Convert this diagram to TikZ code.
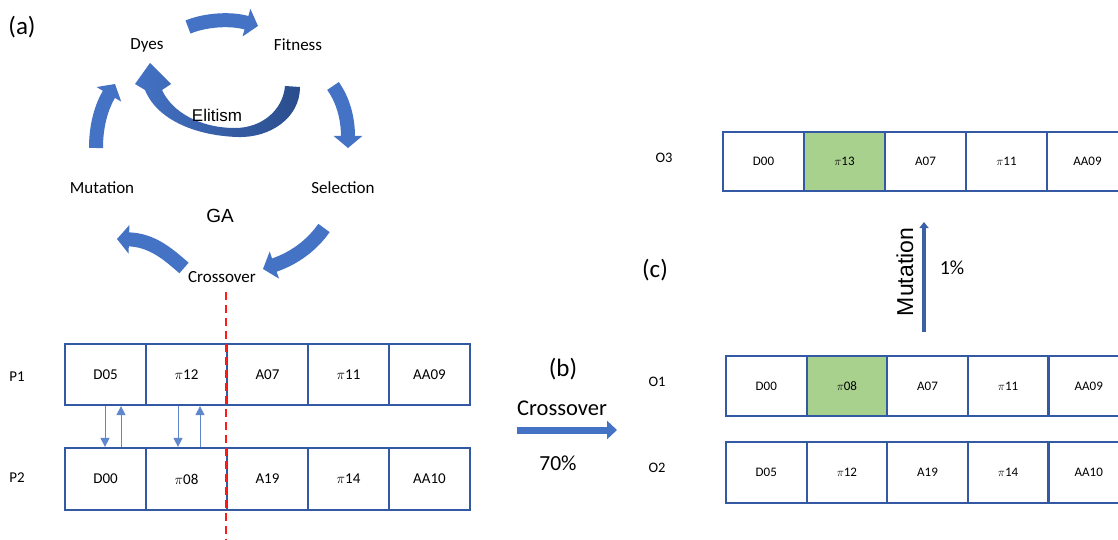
\documentclass[tikz,border=0pt]{standalone}
\usepackage{fontspec}
\setmainfont{Carlito}
\newfontfamily\arialf{Liberation Sans}
\usetikzlibrary{arrows.meta,calc}
\definecolor{cellblue}{HTML}{3358A4}
\definecolor{arrblue}{HTML}{4472C4}
\definecolor{darkblue}{HTML}{2A4D8C}
\definecolor{cellgreen}{HTML}{A9D18E}
\definecolor{cutred}{HTML}{FF1A1A}
\tikzset{
  cell/.style={draw=cellblue, line width=2.2pt, minimum width=81pt, minimum height=61pt, inner sep=0pt, font=\fontsize{15}{17}\selectfont},
  ocell/.style={cell, minimum width=80.6pt, minimum height=60pt, font=\fontsize{13}{15}\selectfont},
  lbl/.style={inner sep=0pt, font=\fontsize{17}{20}\selectfont},
  rowlbl/.style={inner sep=0pt, font=\fontsize{15}{17}\selectfont},
  panel/.style={inner sep=0pt, font=\fontsize{25}{29}\selectfont},
  bigarrow/.style={arrblue, line width=14pt, -{Triangle[length=12pt,width=28pt]}},
  smallarr/.style={arrblue!85, line width=0.9pt, -{Triangle[length=9pt,width=9pt]}},
  cutline/.style={cutred, line width=2.2pt, dash pattern=on 8pt off 5pt},
}
\begin{document}
\begin{tikzpicture}[x=1pt,y=-1pt]
\useasboundingbox (0,0) rectangle (1118,540);
\clip (0,0) rectangle (1118,540);
\fill[white] (0,0) rectangle (1118,540);

% ---------- GA cycle ----------
\node[panel] (pa) at (22,27) {(a)};
\node[lbl] (dyes) at (147,45) {Dyes};
\node[lbl] (fit) at (298,45) {Fitness};
\node[lbl] (sel) at (343,188) {Selection};
\node[lbl] (mut) at (102,188) {Mutation};
\node[lbl] (cro) at (222,277) {Crossover};
\node[inner sep=0pt, font=\arialf\fontsize{19}{23}\selectfont] (ga) at (220,216) {GA};

\coordinate (a1s) at (188,27);  \coordinate (a1e) at (258,26);
\coordinate (a2s) at (333,86);  \coordinate (a2e) at (348,148);
\coordinate (a3s) at (324,228); \coordinate (a3e) at (263,269);
\coordinate (a4s) at (184,268); \coordinate (a4e) at (117,239);
\coordinate (a5s) at (96,148);  \coordinate (a5e) at (115,84);

\draw[bigarrow] (a1s) .. controls (205,20) and (230,18) .. (a1e);
\draw[bigarrow] (a2s) .. controls (343,100) and (348,118) .. (a2e);
\draw[bigarrow] (a3s) .. controls (312,245) and (295,258) .. (a3e);
\draw[bigarrow] (a4s) .. controls (168,254) and (152,240) .. (a4e);
\draw[bigarrow] (a5s) .. controls (96,124) and (102,106) .. (a5e);

% Elitism ribbon
\shade[left color=arrblue, right color=darkblue]
  (300,87) .. controls (300,118) and (270,138) .. (238,137)
  .. controls (200,136) and (158,122) .. (145,90)
  -- (135,84) -- (150,63) -- (171,84) -- (162,90)
  .. controls (172,112) and (200,128) .. (235,128)
  .. controls (262,128) and (283,110) .. (285,86) -- cycle;
\node[inner sep=0pt, font=\arialf\fontsize{17}{20}\selectfont] (eli) at (217,115) {Elitism};

% ---------- parents ----------
\node[rowlbl] (lp1) at (17,377) {P1};
\node[rowlbl] (lp2) at (17,478) {P2};
\foreach \t [count=\i from 0] in {D05,$\pi$12,A07,$\pi$11,AA09}
  \node[cell] (p1-\i) at (105.5+81*\i,374.5) {\t};
\foreach \t [count=\i from 0] in {D00,$\pi$08,A19,$\pi$14,AA10}
  \node[cell, minimum height=62pt] (p2-\i) at (105.5+81*\i,479) {\t};

\draw[smallarr] ([xshift=-0.5pt]p1-0.south) -- ([xshift=-0.5pt]p2-0.north);
\draw[smallarr] ([xshift=15.5pt]p2-0.north) -- ([xshift=15.5pt]p1-0.south);
\draw[smallarr] ([xshift=-8.5pt]p1-1.south) -- ([xshift=-8.5pt]p2-1.north);
\draw[smallarr] ([xshift=13.5pt]p2-1.north) -- ([xshift=13.5pt]p1-1.south);

\coordinate (cutT) at (226,292);
\coordinate (cutB) at (226,545);
\draw[cutline] (cutT) -- (cutB);

% ---------- (b) crossover ----------
\node[panel] (pb) at (563,369) {(b)};
\node[inner sep=0pt, font=\fontsize{22.5}{26}\selectfont] (crot) at (562,408) {Crossover};
\node[inner sep=0pt, font=\fontsize{21.5}{25}\selectfont] (pct70) at (558,463) {70\%};
\coordinate (cxs) at (517,430);
\coordinate (cxe) at (617,430);
\draw[arrblue, line width=7pt, -{Triangle[length=10pt,width=18pt]}] (cxs) -- (cxe);

% ---------- offspring ----------
\node[panel] (pc) at (655,270) {(c)};
\node[rowlbl, font=\fontsize{14.5}{17}\selectfont] (lo3) at (664,158) {O3};
\node[rowlbl, font=\fontsize{14.5}{17}\selectfont] (lo1) at (657,382) {O1};
\node[rowlbl, font=\fontsize{14.5}{17}\selectfont] (lo2) at (657,468) {O2};

\node[ocell, minimum width=81pt, minimum height=59pt] (o3-0) at (763.5,161.5) {D00};
\node[ocell, minimum width=81pt, minimum height=59pt, fill=cellgreen] (o3-1) at (844.5,161.5) {$\pi$13};
\node[ocell, minimum width=81pt, minimum height=59pt] (o3-2) at (925.5,161.5) {A07};
\node[ocell, minimum width=81pt, minimum height=59pt] (o3-3) at (1006.5,161.5) {$\pi$11};
\node[ocell, minimum width=81pt, minimum height=59pt] (o3-4) at (1087.5,161.5) {AA09};

\node[ocell] (o1-0) at (766.3,386) {D00};
\node[ocell, fill=cellgreen] (o1-1) at (846.9,386) {$\pi$08};
\node[ocell] (o1-2) at (927.5,386) {A07};
\node[ocell] (o1-3) at (1008.1,386) {$\pi$11};
\node[ocell] (o1-4) at (1088.7,386) {AA09};

\foreach \t [count=\i from 0] in {D05,$\pi$12,A19,$\pi$14,AA10}
  \node[ocell, minimum height=61pt] (o2-\i) at (766.3+80.6*\i,472.5) {\t};

% mutation arrow
\coordinate (ms) at (924,332);
\coordinate (me) at (924,222);
\draw[draw=arrblue!85!black, line width=3.5pt, -{Triangle[length=6pt,width=9pt]}] (ms) -- (me);
\node[inner sep=0pt, rotate=90, font=\arialf\fontsize{23}{27}\selectfont] (mutt) at (905,272) {Mutation};
\node[inner sep=0pt, font=\fontsize{20}{24}\selectfont] (pct1) at (952,268) {1\%};
\end{tikzpicture}
\end{document}
